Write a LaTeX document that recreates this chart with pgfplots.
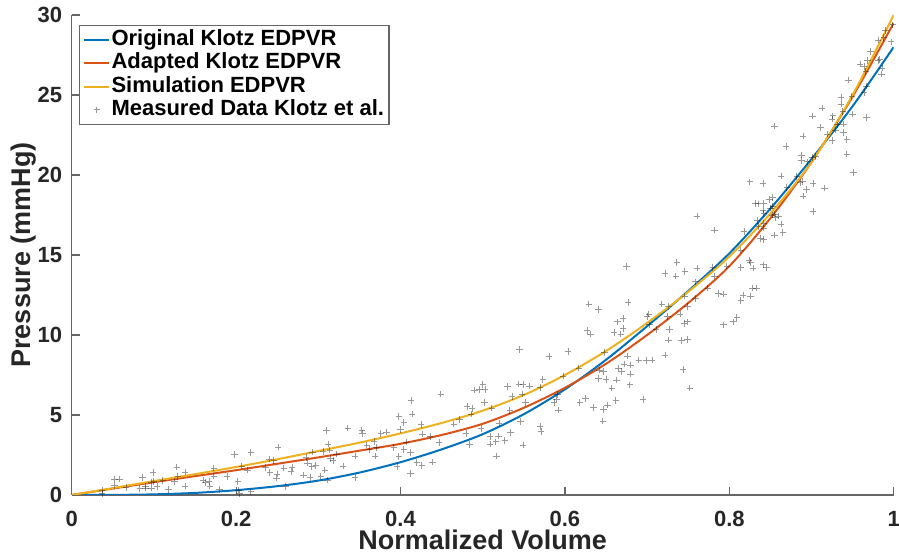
\documentclass[border=0pt]{standalone}
\usepackage{fontspec}
\setmainfont{Liberation Sans}
\usepackage{pgfplots}
\pgfplotsset{compat=1.18}
\definecolor{mblue}{rgb}{0,0.447,0.741}
\definecolor{mred}{rgb}{0.850,0.325,0.098}
\definecolor{myellow}{rgb}{0.929,0.694,0.125}
\definecolor{axgray}{rgb}{0.15,0.15,0.15}
\pgfplotsset{
  curveleg/.style={legend image code/.code={\draw[##1] (0pt,0pt) -- (12.5pt,0pt);}},
  markleg/.style={legend image code/.code={\draw[##1] plot coordinates {(6.25pt,0pt)};}},
}
\begin{document}
\begin{tikzpicture}
\begin{axis}[
  at={(0,0)}, anchor=south west,
  scale only axis, width=411pt, height=240pt,
  xmin=0, xmax=1, ymin=0, ymax=30,
  axis x line*=bottom, axis y line*=left,
  axis line style={black!60, line width=0.6pt},
  xtick={0,0.2,0.4,0.6,0.8,1},
  ytick={0,5,10,15,20,25,30},
  tick align=inside,
  major tick length=4pt,
  tick style={black!60, line width=0.6pt},
  ticklabel style={font=\fontsize{11}{13}\selectfont\bfseries, text=axgray},
  /pgf/number format/assume math mode=true,
  xticklabel style={yshift=-4.5pt},
  yticklabel style={xshift=-1.3pt},
  xlabel={Normalized Volume}, ylabel={Pressure (mmHg)},
  label style={font=\fontsize{13.5}{15}\selectfont\bfseries, text=axgray},
  xlabel style={at={(axis description cs:0.5,-0.094)}, anchor=center},
  ylabel style={at={(axis description cs:-0.058,0.5)}, anchor=center},
  legend style={at={(axis description cs:0.009,0.979)}, anchor=north west,
    draw=black!60, line width=0.6pt, inner sep=1.8pt, row sep=0.6pt,
    font=\fontsize{11}{13}\selectfont\bfseries,
    nodes={inner sep=0.6pt, text height=7.6pt, text depth=2.2pt}},
  legend cell align=left,
]
\addplot[mblue, line width=1pt, smooth, curveleg] coordinates {
(0,0) (0.05,0.005) (0.1,0.04) (0.15,0.13) (0.2,0.3) (0.25,0.55) (0.3,0.9)
(0.35,1.4) (0.4,2.05) (0.45,2.85) (0.5,3.8) (0.55,5.05) (0.6,6.6) (0.65,8.45)
(0.7,10.55) (0.75,12.75) (0.8,15.1) (0.85,17.9) (0.9,21.0) (0.95,24.3) (1,28.0)};
\addlegendentry{Original Klotz EDPVR}
\addplot[mred, line width=1pt, smooth, curveleg] coordinates {
(0,0) (0.05,0.4) (0.1,0.8) (0.15,1.18) (0.2,1.55) (0.25,1.95) (0.3,2.35)
(0.35,2.77) (0.4,3.2) (0.45,3.75) (0.5,4.45) (0.55,5.45) (0.6,6.7) (0.65,8.2)
(0.7,10.0) (0.75,12.0) (0.8,14.3) (0.85,17.3) (0.9,20.8) (0.95,24.9) (1,29.5)};
\addlegendentry{Adapted Klotz EDPVR}
\addplot[myellow, line width=1pt, smooth, curveleg] coordinates {
(0,0) (0.05,0.43) (0.1,0.87) (0.15,1.3) (0.2,1.75) (0.25,2.23) (0.3,2.75)
(0.35,3.27) (0.4,3.85) (0.45,4.5) (0.5,5.27) (0.55,6.25) (0.6,7.5) (0.65,9.0)
(0.7,10.75) (0.75,12.7) (0.8,14.9) (0.85,17.6) (0.9,20.8) (0.95,25.0) (1,30.0)};
\addlegendentry{Simulation EDPVR}
\addplot[only marks, mark=+, mark size=1.6pt, black, opacity=0.4, line width=0.45pt, markleg] coordinates {
(0.037,0.27)(0.037,0.10)(0.052,1.00)(0.058,1.00)(0.052,0.60)(0.066,0.46)(0.086,1.10)(0.083,0.40)
(0.090,0.56)(0.090,0.42)(0.097,0.81)(0.097,0.42)(0.099,1.40)(0.100,0.85)(0.104,0.52)(0.111,0.90)
(0.118,0.35)(0.125,0.85)(0.128,1.75)(0.129,1.15)(0.138,1.44)(0.138,0.56)(0.160,0.94)(0.163,0.77)
(0.167,0.85)(0.168,0.56)(0.173,1.69)(0.173,1.19)(0.180,0.35)(0.189,1.15)(0.198,2.54)(0.202,0.85)
(0.203,0.31)(0.218,2.65)(0.204,0.10)(0.218,0.20)(0.207,1.81)(0.214,1.56)
(0.251,3.00)(0.240,2.25)(0.246,2.15)(0.236,1.73)(0.241,1.40)(0.250,1.31)(0.249,1.06)(0.258,1.69)
(0.268,1.73)(0.267,1.48)(0.260,0.52)(0.282,1.25)(0.285,2.35)(0.287,2.00)(0.290,1.10)(0.292,1.77)
(0.293,2.69)(0.297,1.85)(0.303,1.19)(0.306,2.71)(0.308,1.56)(0.310,4.04)(0.311,0.94)(0.312,3.19)
(0.314,2.81)(0.315,2.29)(0.318,2.15)(0.322,2.56)(0.330,1.81)(0.336,4.17)(0.345,2.44)(0.345,1.10)
(0.353,4.06)(0.354,3.85)(0.359,3.12)(0.362,2.85)(0.368,3.35)(0.369,2.44)(0.371,2.98)(0.376,3.85)
(0.383,3.94)(0.392,2.98)(0.398,4.90)(0.398,2.40)(0.396,1.77)
(0.413,5.90)(0.414,5.06)(0.404,4.52)(0.400,4.10)(0.404,2.85)(0.412,2.65)(0.407,3.31)(0.420,2.02)
(0.426,1.85)(0.412,1.35)(0.425,4.40)(0.427,3.81)(0.436,3.65)(0.439,2.06)(0.447,3.27)(0.449,6.31)
(0.465,4.44)(0.472,4.73)(0.480,3.85)(0.481,5.52)(0.484,3.15)(0.486,5.06)(0.487,5.40)(0.490,6.56)
(0.496,6.60)(0.500,6.90)(0.503,6.60)(0.502,5.77)(0.498,4.15)(0.509,3.65)(0.509,3.19)(0.511,5.42)
(0.516,3.33)(0.517,2.44)(0.519,3.69)(0.520,4.48)(0.527,3.40)(0.530,6.77)(0.534,3.90)(0.536,6.15)
(0.533,5.27)(0.544,6.94)(0.545,9.10)(0.549,6.90)(0.546,4.60)(0.549,3.12)(0.548,6.31)(0.552,5.77)
(0.557,6.81)(0.570,6.73)(0.573,7.23)(0.581,8.65)(0.570,4.27)(0.571,3.98)(0.587,5.77)(0.590,6.00)
(0.591,6.27)(0.592,5.31)
(0.604,8.96)(0.598,7.44)(0.617,7.92)(0.618,5.77)(0.625,6.04)(0.627,10.27)(0.629,11.94)
(0.635,5.48)(0.647,5.35)(0.646,4.62)(0.652,5.62)(0.662,5.90)(0.641,7.29)(0.642,7.81)(0.647,7.71)
(0.648,8.90)(0.650,7.23)(0.657,6.67)(0.663,7.19)(0.665,7.92)(0.669,7.71)(0.672,8.19)(0.676,8.69)
(0.679,6.88)(0.680,7.56)(0.680,8.12)(0.631,10.06)(0.641,11.60)(0.660,10.15)(0.664,10.83)(0.668,10.06)
(0.671,10.40)(0.671,11.04)(0.675,14.27)(0.677,12.04)(0.690,8.44)(0.695,5.98)(0.699,8.40)(0.700,11.15)
(0.702,11.31)(0.706,8.44)(0.703,10.63)(0.711,10.35)(0.718,11.94)(0.722,8.75)(0.722,13.85)(0.725,11.15)
(0.726,11.77)(0.727,10.35)(0.726,9.69)(0.735,13.69)(0.736,14.52)(0.740,11.31)(0.742,9.65)(0.744,7.85)
(0.745,10.73)(0.746,12.44)(0.746,13.96)(0.749,11.77)(0.749,10.83)(0.749,9.73)(0.752,6.67)(0.759,13.33)
(0.761,17.44)(0.761,14.17)(0.759,12.29)(0.774,12.92)(0.780,14.23)(0.782,13.69)(0.782,16.56)(0.787,12.60)
(0.793,12.56)(0.793,10.63)(0.797,14.31)
(0.805,10.83)(0.809,11.10)(0.814,12.15)(0.817,12.50)(0.826,12.44)(0.828,12.92)(0.833,12.92)(0.814,14.23)
(0.824,14.65)(0.826,14.52)(0.829,14.17)(0.841,14.38)(0.845,14.23)(0.818,16.46)(0.814,15.31)(0.838,16.04)
(0.842,15.98)(0.834,17.15)(0.836,16.77)(0.842,16.67)(0.842,16.98)(0.832,18.23)(0.835,18.20)(0.842,18.23)
(0.841,17.81)(0.842,17.60)(0.849,18.48)(0.853,18.60)(0.853,18.06)(0.850,17.92)(0.852,17.50)(0.855,17.56)
(0.856,17.35)(0.860,17.44)(0.863,16.94)(0.865,16.40)(0.855,16.25)(0.825,19.58)(0.841,19.48)(0.863,19.94)
(0.870,19.23)(0.882,19.90)(0.886,19.52)(0.889,19.60)(0.888,20.90)(0.894,19.10)(0.890,18.69)(0.895,20.83)
(0.902,19.48)(0.902,17.71)(0.888,21.25)(0.901,21.10)(0.905,21.15)(0.869,21.77)(0.890,22.44)(0.916,19.17)
(0.911,22.98)(0.901,23.69)(0.855,23.06)(0.913,24.17)(0.925,23.50)(0.926,23.70)(0.919,22.56)(0.925,22.15)
(0.929,22.81)(0.931,23.13)(0.936,24.44)(0.938,23.96)(0.939,23.19)(0.939,22.65)(0.943,22.23)(0.943,21.31)
(0.950,23.81)(0.951,20.15)(0.967,23.60)
(0.936,24.85)(0.945,25.94)(0.949,24.90)(0.959,26.94)(0.964,26.77)(0.966,26.46)(0.968,27.15)(0.972,27.71)
(0.967,25.56)(0.964,25.15)(0.981,28.44)(0.981,27.15)(0.983,27.23)(0.986,26.67)(0.985,26.31)(0.988,28.60)
(0.990,29.02)(0.997,28.33)(0.999,29.38)};
\addlegendentry{Measured Data Klotz et al.}
\end{axis}
\pgfresetboundingbox
\path (-35.85pt,-32.5pt) rectangle (413.65pt,247.5pt);
\end{tikzpicture}
\end{document}
